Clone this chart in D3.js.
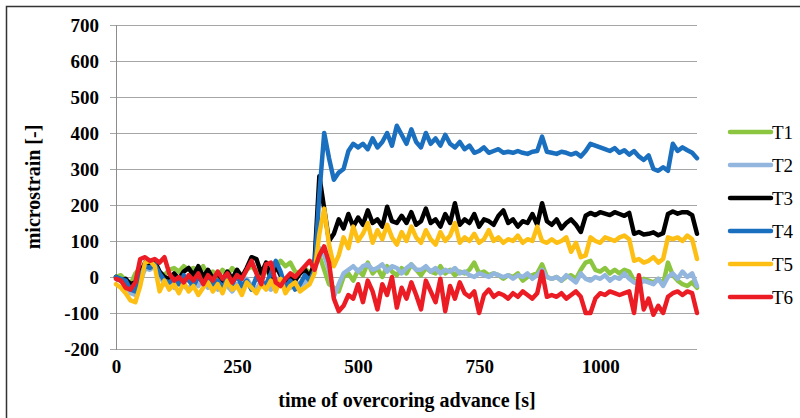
<!DOCTYPE html>
<html>
<head>
<meta charset="utf-8">
<script src="https://cdn.jsdelivr.net/npm/d3@7"></script>
<style>
  body { margin: 0; background: #fff; }
  svg { display: block; }
</style>
</head>
<body>
<svg id="chart" width="800" height="418"></svg>
<script>
// Sample times, one reading every 10 s (0..1200 s)
const TIMES = d3.range(0, 1201, 10);

// Readings in microstrain, rows of 10 samples (0-90 s, 100-190 s, ...), last value = 1200 s
const T1 = [
  0, 5, -10, -20, 10, 25, 20, 30, 35, 10,
  5, 20, 25, 15, 30, 20, 25, 10, 30, 5,
  15, 0, 20, 5, 25, 10, -5, 20, 30, 15,
  5, 20, 0, 25, 45, 30, 40, 15, 10, 25,
  10, 30, 60, 20, -20, -30, -40, 0, 10, -10,
  20, 5, 40, 10, 25, 0, 30, 15, 5, 25,
  10, 35, 20, 5, 25, 15, 10, 30, 10, 20,
  5, 15, 10, 20, 40, 10, 15, 5, 10, 5,
  -5, 5, 0, 10, -10, 0, 5, 10, 35, 0,
  -5, 0, -10, 0, 5, -5, 20, 40, 45, 20,
  15, 25, 10, 20, 10, 20, 15, -10, -15, -5,
  -10, -15, -5, -20, 40, 5, -10, -20, -25, -15,
  -30,
];
const T2 = [
  -5, -10, -20, -45, -50, -15, 25, 20, 30, 5,
  -20, -10, -30, -15, -25, -35, -10, -25, -5, -30,
  -15, -35, -10, -25, -40, -20, -30, -5, -25, -35,
  -10, -25, -35, -15, 0, -20, -30, -10, -25, -15,
  -5, 30, 80, 60, 20, -55, -20, 10, 20, 30,
  15, 30, 35, 20, 25, 35, 15, 30, 25, 10,
  25, 35, 20, 20, 30, 15, 25, 10, 20, 15,
  25, 10, 15, 5, 0, 10, 5, 0, 10, 5,
  0, 5, -5, 5, 0, 10, -5, 5, 20, 0,
  -5, 0, -10, 5, -5, -15, 10, -5, -10, 0,
  -5, 5, -10, 0, -5, 10, -5, -15, -20, -10,
  -15, -20, -5, -25, 0, 10, -5, 15, 0, 10,
  -25,
];
const T3 = [
  0, -10, -5, -20, -15, 10, 40, 35, 45, 15,
  0, -5, 10, -5, 15, 25, 5, 30, 0, 20,
  -5, 10, -10, 15, -5, 20, 0, 25, 55, 50,
  10, 40, -5, 30, 5, -15, 0, -10, 10, 20,
  0, 40, 280, 190, 100, 120, 160, 135, 175, 140,
  165, 145, 185, 150, 160, 140, 195, 155, 150, 170,
  150, 180, 145, 155, 190, 150, 160, 140, 175, 150,
  205, 145, 160, 150, 175, 140, 160, 155, 145, 170,
  185, 150, 160, 140, 155, 150, 175, 145, 205, 155,
  145, 160, 135, 150, 160, 145, 125, 170, 178, 172,
  180, 176, 172, 180, 175, 170, 178, 120, 125, 118,
  120, 124, 116, 122, 175, 182, 176, 180, 180, 172,
  120,
];
const T4 = [
  0, -5, -10, -35, -40, 5, 30, 25, 35, 10,
  -10, -15, -5, -20, 5, -10, -25, 0, -15, -5,
  -20, -10, -30, -5, -20, 5, -25, -10, -35, 0,
  -15, -20, 10, 45, 15, -30, -10, -35, -20, 5,
  -10, 20, 230, 400, 330, 270, 290, 300, 350, 370,
  360, 370, 355, 385, 360, 375, 400, 365, 420, 395,
  370, 410, 375, 360, 400, 370, 385, 365, 395, 370,
  360, 375, 355, 365, 345, 350, 360, 345, 350, 355,
  345, 348, 345, 350, 345, 342, 348, 350, 390, 348,
  345, 342, 348, 345, 340, 345, 335, 350, 370, 365,
  360, 355, 350, 358, 345, 352, 340, 350, 335, 325,
  338, 300, 295, 305, 295, 370, 350, 360, 352, 345,
  330,
];
const T5 = [
  -20, -30, -45, -65, -70, -25, 40, 45, 30, -40,
  -10, -35, -20, -45, -15, -40, -25, -50, -30, -15,
  -40, -20, -45, -10, -35, -25, -50, -15, -30, -45,
  -20, -35, -10, -40, -5, -45, -25, -15, -40, -30,
  -20, 10, 120, 190, 90, 30, 60, 110, 80, 140,
  100, 120, 150, 95, 130, 105, 145, 110, 90, 125,
  100, 140, 110, 95, 130, 105, 90, 125, 100, 115,
  150, 95, 110, 100, 120, 95, 105, 130, 100, 110,
  95, 105, 100, 115, 95, 105, 100, 140, 100, 95,
  105, 95, 100, 110, 70, 95, 55, 60, 110, 100,
  95, 110, 105, 100, 110, 115, 105, 45, 50, 40,
  45, 55, 40, 50, 110, 105, 110, 100, 115, 105,
  50,
];
const T6 = [
  -5, -10, -30, -35, -15, 50, 55, 45, 50, 40,
  55, 10, -10, 0, -15, 5, -10, 10, -20, 5,
  -10, 15, -5, 10, -15, 5, -5, 20, 45, 10,
  -20, 35, 40, -15, -25, -5, 10, 0, 15, 30,
  45, 20, 60, 85, 40, -60, -95, -80, -50, -60,
  -20, -70, -10, -40, -90, -20, -50, 0, -85, -30,
  -60, -15, -50, -90, -10, -40, -70, -5, -95, -25,
  -60, -15, -45, -55, -40, -100, -50, -35, -55, -45,
  -50, -60, -45, -55, -40, -50, -60, -45, 15, -55,
  -50, -55, -45, -60, -50, -40, -55, -100, -100, -60,
  -45, -50, -40, -45, -50, -45, -40, -100, 5, -90,
  -60, -105, -80, -100, -55, -45, -40, -50, -40, -45,
  -100,
];

const SERIES = [
  { name: "T1", values: T1, color: "#8cc540" },
  { name: "T2", values: T2, color: "#93b6de" },
  { name: "T3", values: T3, color: "#000000" },
  { name: "T4", values: T4, color: "#1a6fbe" },
  { name: "T5", values: T5, color: "#fdbf14" },
  { name: "T6", values: T6, color: "#ec1c24" },
];

const Y_TICKS = d3.range(-200, 701, 100);
const X_TICKS = [0, 250, 500, 750, 1000];

const svg = d3.select("#chart");
const serif = '"Liberation Serif", "Times New Roman", serif';

// Outer frame (only top and left edges fall inside the picture)
svg.append("rect")
  .attr("x", 6.5).attr("y", 6.5)
  .attr("width", 820).attr("height", 440)
  .attr("fill", "none")
  .attr("stroke", "#333")
  .attr("stroke-width", 1.5);

const x = d3.scaleLinear([0, 1200], [116, 697]);
const y = d3.scaleLinear([-200, 700], [349, 25]);

// Horizontal gridlines, stretched 6px left of the axis as tick marks
svg.append("g")
  .selectAll("line")
  .data(Y_TICKS)
  .join("line")
  .attr("x1", 110).attr("x2", x(1200))
  .attr("y1", (d) => Math.round(y(d)) + 0.5)
  .attr("y2", (d) => Math.round(y(d)) + 0.5)
  .attr("stroke", "#a6a6a6")
  .attr("stroke-width", 1);

// Vertical axis line
svg.append("line")
  .attr("x1", 116.5).attr("x2", 116.5)
  .attr("y1", y(700)).attr("y2", y(-200) + 1)
  .attr("stroke", "#8c8c8c");

// Tick labels (plain hyphen for negatives, like the original)
const yAxis = svg.append("g")
  .attr("transform", "translate(116,0)")
  .call(d3.axisLeft(y).tickValues(Y_TICKS).tickFormat((d) => String(d)).tickSize(6).tickPadding(11));
yAxis.select(".domain").remove();
yAxis.selectAll(".tick line").remove();

const xAxis = svg.append("g")
  .attr("transform", `translate(0,${y(-200)})`)
  .call(d3.axisBottom(x).tickValues(X_TICKS).tickFormat((d) => String(d)).tickSize(0).tickPadding(11));
xAxis.select(".domain").remove();

svg.selectAll(".tick text")
  .attr("font-family", serif)
  .style("font-family", serif)
  .attr("font-weight", "bold")
  .attr("font-size", 19)
  .attr("fill", "#000");

// Series lines
const line = d3.line()
  .x((d, i) => x(TIMES[i]))
  .y((d) => y(d));

svg.append("g")
  .selectAll("path")
  .data(SERIES)
  .join("path")
  .attr("d", (s) => line(s.values))
  .attr("fill", "none")
  .attr("stroke", (s) => s.color)
  .attr("stroke-width", 4.5)
  .attr("stroke-linejoin", "round")
  .attr("stroke-linecap", "round");

// Axis titles
svg.append("text")
  .attr("x", 407).attr("y", 407)
  .attr("text-anchor", "middle")
  .attr("font-family", serif)
  .attr("font-weight", "bold")
  .attr("font-size", 20)
  .text("time of overcoring advance [s]");

svg.append("text")
  .attr("transform", `translate(40,${(y(700) + y(-200)) / 2}) rotate(-90)`)
  .attr("text-anchor", "middle")
  .attr("font-family", serif)
  .attr("font-weight", "bold")
  .attr("font-size", 20)
  .text("microstrain [-]");

// Legend
const legend = svg.append("g")
  .selectAll("g")
  .data(SERIES)
  .join("g")
  .attr("transform", (s, i) => `translate(730,${132 + i * 33})`);

legend.append("line")
  .attr("x1", 0).attr("x2", 41)
  .attr("stroke", (s) => s.color)
  .attr("stroke-width", 4.5)
  .attr("stroke-linecap", "round");

legend.append("text")
  .attr("x", 42).attr("dy", "0.35em")
  .attr("font-family", serif)
  .attr("font-size", 19)
  .text((s) => s.name);
</script>
</body>
</html>
